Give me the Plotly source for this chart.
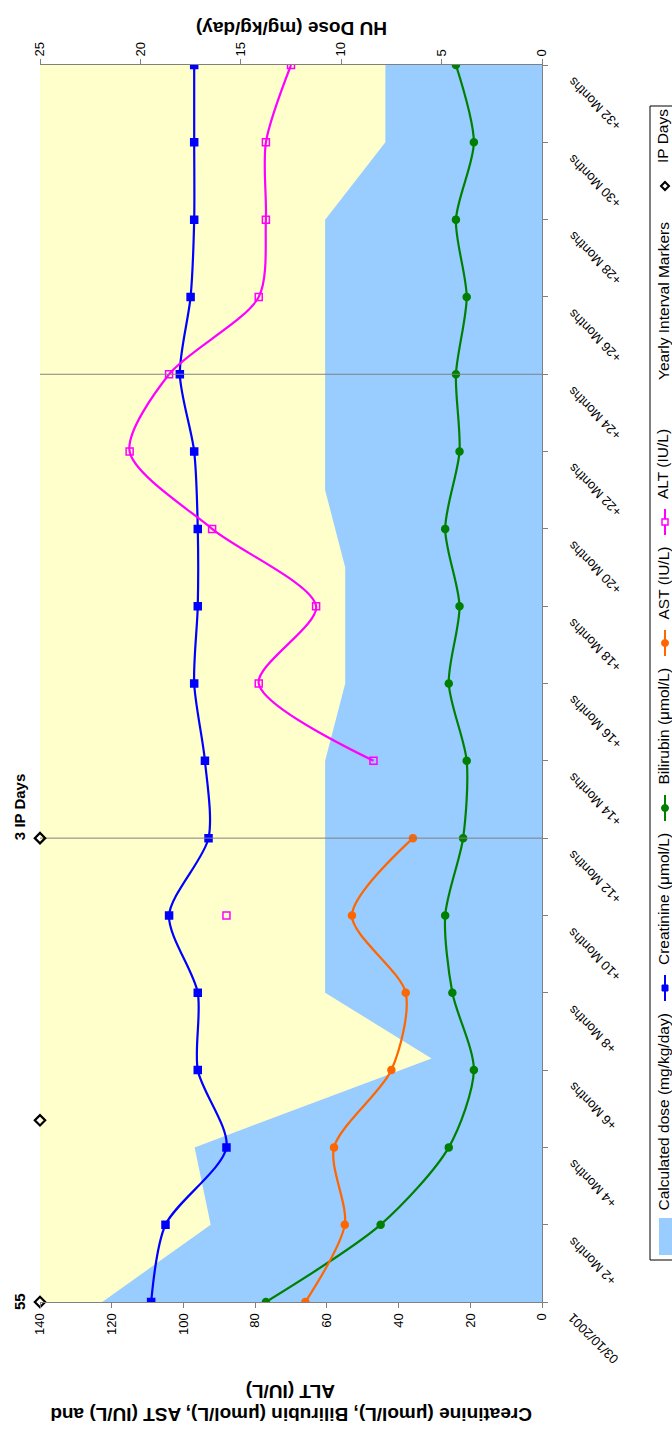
import plotly.graph_objects as go

W, H = 672, 1441
# plot area in page pixels (the chart is drawn turned a quarter turn)
PX0, PX1 = 40, 542
PY0, PY1 = 65, 1302


def px(x):
    return x / W


def py(y):
    return 1 - y / H


months = list(range(0, 33, 2))
month_labels = ["03/10/2001"] + [f"+{m} Months" for m in months[1:]]

creatinine = [109, 105, 88, 96, 96, 104, 93, 94, 97, 96, 96, 97, 101, 98, 97, 97, 97]
bilirubin = [77, 45, 26, 19, 25, 27, 22, 21, 26, 23, 27, 23, 24, 21, 24, 19, 24]
ast = [66, 55, 58, 42, 38, 53, 36, None, None, None, None, None, None, None, None, None, None]
alt = [None, None, None, None, None, 88, None, 47, 79, 63, 92, 115, 104, 79, 77, 77, 70]

dose_months = [0, 2, 4, 6.3, 8, 14, 16, 19, 21, 28, 30, 32]
dose = [21.9, 16.5, 17.3, 5.5, 10.8, 10.8, 9.8, 9.8, 10.8, 10.8, 7.8, 7.8]

yearly_months = [12, 24]
ip_months = [0, 4.7, 12]
ip_labels = ["55", "", "3 IP Days"]

C_DOSE = "#99CCFF"
C_CREAT = "#0000FF"
C_BILI = "#008000"
C_AST = "#FF6600"
C_ALT = "#FF00FF"
FONT = "Liberation Sans, Arial, sans-serif"

fig = go.Figure()

fig.add_trace(go.Scatter(x=dose, y=dose_months, xaxis="x", yaxis="y", mode="lines",
                         fill="tozerox", fillcolor=C_DOSE, line=dict(color=C_DOSE, width=0),
                         name="Calculated dose (mg/kg/day)"))

series = [
    ("Creatinine (μmol/L)", creatinine, C_CREAT, "square"),
    ("Bilirubin (μmol/L)", bilirubin, C_BILI, "circle"),
    ("AST (IU/L)", ast, C_AST, "circle"),
    ("ALT (IU/L)", alt, C_ALT, "square-open"),
]
for name, vals, col, sym in series:
    fig.add_trace(go.Scatter(x=vals, y=months, xaxis="x2", yaxis="y", mode="lines+markers",
                             line=dict(color=col, width=2.2, shape="spline", smoothing=0.8),
                             marker=dict(symbol=sym, size=7, color=col, line=dict(color=col, width=1.5)),
                             connectgaps=False, name=name))

yx, yy = [], []
for m in yearly_months:
    yx += [140, 0, None]
    yy += [m, m, None]
fig.add_trace(go.Scatter(x=yx, y=yy, xaxis="x2", yaxis="y", mode="lines",
                         line=dict(color="#808080", width=1), name="Yearly Interval Markers"))

fig.add_trace(go.Scatter(x=[140] * len(ip_months), y=ip_months, xaxis="x2", yaxis="y", mode="markers",
                         marker=dict(symbol="diamond-open", size=8, color="black", line=dict(width=2.2)),
                         cliponaxis=False, name="IP Days"))

annotations = []
for m, lab in zip(ip_months, ip_labels):
    if not lab:
        continue
    if m == 0:
        annotations.append(dict(x=140, y=m, xref="x2", yref="y", text=f"<b>{lab}</b>", textangle=-90,
                                showarrow=False, xshift=-21, font=dict(size=15)))
    else:
        annotations.append(dict(x=140, y=m, xref="x2", yref="y", text=f"<b>{lab}</b>", textangle=-90,
                                yanchor="bottom", showarrow=False, xshift=-21, yshift=-4,
                                font=dict(size=15)))

# date labels, upside down and hanging below their ticks
for m, lab in zip(months, month_labels):
    annotations.append(dict(x=px(PX1 + 20), y=m, xref="paper", yref="y", text=lab, textangle=-135,
                            xanchor="left", yanchor="top", yshift=-6, showarrow=False,
                            font=dict(size=13)))

# axis titles, upside down like the rest of the turned chart
annotations.append(dict(x=px(291), y=py(1427), xref="paper", yref="paper", textangle=180,
                        text="<b>Creatinine (μmol/L), Bilirubin (μmol/L), AST (IU/L) and</b>",
                        showarrow=False, font=dict(size=19)))
annotations.append(dict(x=px(291), y=py(1404), xref="paper", yref="paper", textangle=180,
                        text="<b>ALT (IU/L)</b>", showarrow=False, font=dict(size=19)))
annotations.append(dict(x=px(292), y=py(16), xref="paper", yref="paper", textangle=180,
                        text="<b>HU Dose (mg/kg/day)</b>", showarrow=False, font=dict(size=19)))

# legend, drawn turned like the rest of the chart
shapes = [dict(type="rect", xref="paper", yref="paper", x0=px(650), x1=px(700), y0=py(1260), y1=py(106),
               line=dict(color="black", width=1), fillcolor="white", layer="below")]
LX = 665
shapes.append(dict(type="rect", xref="paper", yref="paper", x0=px(659), x1=px(672), y0=py(1255), y1=py(1218),
                   fillcolor=C_DOSE, line=dict(width=0)))
legend_items = [
    ("Calculated dose (mg/kg/day)", None, None, 1213),
    ("Creatinine (μmol/L)", C_CREAT, "square", 967),
    ("Bilirubin (μmol/L)", C_BILI, "circle", 787),
    ("AST (IU/L)", C_AST, "circle", 622),
    ("ALT (IU/L)", C_ALT, "square-open", 501),
    ("Yearly Interval Markers", None, None, 382),
    ("IP Days", "black", "diamond", 165),
]
for text, col, sym, ystart in legend_items:
    annotations.append(dict(x=px(663), y=py(ystart), xref="paper", yref="paper", text=text, textangle=-90,
                            yanchor="bottom", xanchor="center", showarrow=False, font=dict(size=15.5)))
    if col is None:
        continue
    c = ystart + 21
    if sym != "diamond":
        shapes.append(dict(type="line", xref="paper", yref="paper", x0=px(LX), x1=px(LX),
                           y0=py(c - 13), y1=py(c + 13), line=dict(color=col, width=2)))
    if sym == "square":
        shapes.append(dict(type="rect", xref="paper", yref="paper", x0=px(LX - 3), x1=px(LX + 3),
                           y0=py(c + 3), y1=py(c - 3), fillcolor=col, line=dict(color=col, width=1)))
    elif sym == "square-open":
        shapes.append(dict(type="rect", xref="paper", yref="paper", x0=px(LX - 3), x1=px(LX + 3),
                           y0=py(c + 3), y1=py(c - 3), fillcolor="white", line=dict(color=col, width=1.5)))
    elif sym == "circle":
        shapes.append(dict(type="circle", xref="paper", yref="paper", x0=px(LX - 3.5), x1=px(LX + 3.5),
                           y0=py(c + 3.5), y1=py(c - 3.5), fillcolor=col, line=dict(color=col, width=1)))
    else:
        shapes.append(dict(type="path", xref="paper", yref="paper",
                           path=f"M {px(LX - 4)},{py(c)} L {px(LX)},{py(c - 4)} L {px(LX + 4)},{py(c)} "
                                f"L {px(LX)},{py(c + 4)} Z",
                           fillcolor="white", line=dict(color=col, width=2)))

# plot background
shapes.append(dict(type="rect", xref="x domain", yref="y domain", x0=0, x1=1, y0=0, y1=1,
                   fillcolor="#FFFFCC", line=dict(width=0), layer="below"))

axis_common = dict(showgrid=False, zeroline=False, showline=True, linecolor="#808080", linewidth=1,
                   ticks="outside", ticklen=5, tickcolor="#808080", automargin=False,
                   tickfont=dict(size=13, color="black"))

fig.update_layout(
    width=W, height=H,
    margin=dict(l=0, r=0, t=0, b=0),
    paper_bgcolor="white", plot_bgcolor="white",
    showlegend=False,
    font=dict(family=FONT, color="black"),
    xaxis=dict(domain=[px(PX0), px(PX1)], range=[25, 0], side="top", anchor="y",
               tickvals=[0, 5, 10, 15, 20, 25], tickangle=-90, **axis_common),
    xaxis2=dict(overlaying="x", range=[140, 0], side="bottom", anchor="y",
                tickvals=list(range(0, 141, 20)), tickangle=-90, **axis_common),
    yaxis=dict(domain=[py(PY1), py(PY0)], range=[0, 32], side="right", anchor="x",
               tickvals=months, showticklabels=False, **axis_common),
    annotations=annotations,
    shapes=shapes,
)

# drop the default page margin so the figure fills the window exactly
fig.write_html("out.html", config={"displayModeBar": False},
               post_script="document.body.style.margin='0';document.body.style.overflow='hidden';")
